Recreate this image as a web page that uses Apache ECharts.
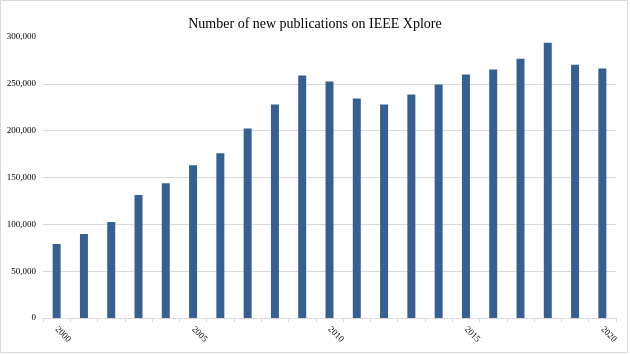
<!DOCTYPE html>
<html>
<head>
<meta charset="utf-8">
<script src="https://cdn.jsdelivr.net/npm/echarts@6/dist/echarts.min.js"></script>
<style>html,body{margin:0;padding:0;background:#fff}#c{width:630px;height:354px}</style>
</head>
<body>
<div id="c"></div>
<script>
const years = ['2000','2001','2002','2003','2004','2005','2006','2007','2008','2009','2010','2011','2012','2013','2014','2015','2016','2017','2018','2019','2020'];
const publications = [79000, 89700, 102400, 131200, 143900, 163000, 175900, 202400, 228000, 258900, 252500, 234400, 228000, 238600, 249300, 260000, 265200, 276900, 293900, 270500, 266300];
const titleText = 'Number of new publications on IEEE Xplore';

const chart = echarts.init(document.getElementById('c'), null, {renderer: 'canvas'});
const serif = '"Liberation Serif", "DejaVu Serif", serif';
chart.setOption({
  animation: false,
  backgroundColor: '#fff',
  title: {
    text: titleText, left: 'center', top: 12,
    textStyle: {fontFamily: serif, fontSize: 14, fontWeight: 'normal', color: '#000'}
  },
  grid: {left: 43, right: 14, top: 37, bottom: 36, containLabel: false},
  xAxis: {
    type: 'category', data: years, boundaryGap: true,
    axisLine: {lineStyle: {color: '#d9d9d9', width: 1}},
    axisTick: {show: true, alignWithLabel: false, interval: 0, length: 4, lineStyle: {color: '#d9d9d9'}},
    axisLabel: {interval: 4, rotate: -45, margin: 10, fontFamily: serif, fontSize: 9, color: '#000'}
  },
  yAxis: {
    type: 'value', min: 0, max: 300000, interval: 50000,
    axisLine: {show: false}, axisTick: {show: false},
    axisLabel: {margin: 7, fontFamily: serif, fontSize: 9, color: '#000',
      formatter: v => v.toLocaleString('en-US')},
    splitLine: {show: true, showMaxLine: false, lineStyle: {color: '#d9d9d9', width: 1}}
  },
  series: [{
    type: 'bar', data: publications, barWidth: 8,
    itemStyle: {color: '#376092'}
  }],
  graphic: [{
    type: 'rect', silent: true, z: 100,
    shape: {x: 0.5, y: 0.5, width: 627, height: 352},
    style: {fill: 'none', stroke: '#d9d9d9', lineWidth: 1}
  }]
});
</script>
</body>
</html>
